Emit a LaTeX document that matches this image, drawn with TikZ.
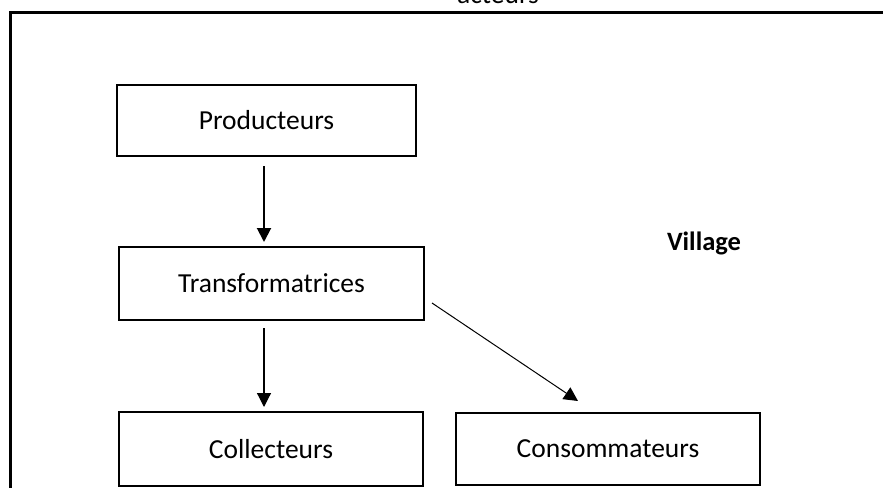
\documentclass[tikz,border=0pt]{standalone}
\usepackage{fontspec}
\setmainfont{Carlito}
\usetikzlibrary{arrows.meta}
\begin{document}
\begin{tikzpicture}[x=1pt,y=-1pt,
  box/.style={draw=black,line width=2pt,inner sep=0pt,font=\fontsize{27.5}{32}\selectfont},
  arr/.style={-{Triangle[length=14pt,width=14pt]}},
  lbl/.style={inner sep=0pt,font=\fontsize{27.5}{32}\selectfont}]
\useasboundingbox (0,0) rectangle (883,487);
\draw[line width=2.5pt] (10.5,1000) -- (10.5,12.5) -- (1000,12.5);
\node[lbl,anchor=base] (top) at (498,4) {acteurs};
\node[box,minimum width=299pt,minimum height=71pt] (P) at (266.5,120.5) {Producteurs};
\node[box,minimum width=305pt,minimum height=73pt] (T) at (271.5,283.5) {Transformatrices};
\node[box,minimum width=304pt,minimum height=74pt] (C) at (271,449) {Collecteurs};
\node[box,minimum width=304pt,minimum height=72pt] (K) at (608,449) {Consommateurs};
\node[lbl,font=\fontsize{26.5}{30}\selectfont\bfseries] (V) at (704,243) {Village};
\draw[arr,line width=2pt] ([xshift=-2.5pt,yshift=-9pt]P.south) -- ([xshift=-7.5pt,yshift=4pt]T.north);
\draw[arr,line width=1.2pt] ([xshift=-7.5pt,yshift=-7pt]T.south) -- ([xshift=-7pt,yshift=4pt]C.north);
\draw[arr,line width=1pt] ([xshift=7pt,yshift=-19.5pt]T.east) -- ([xshift=-30pt,yshift=11pt]K.north);
\end{tikzpicture}
\end{document}
